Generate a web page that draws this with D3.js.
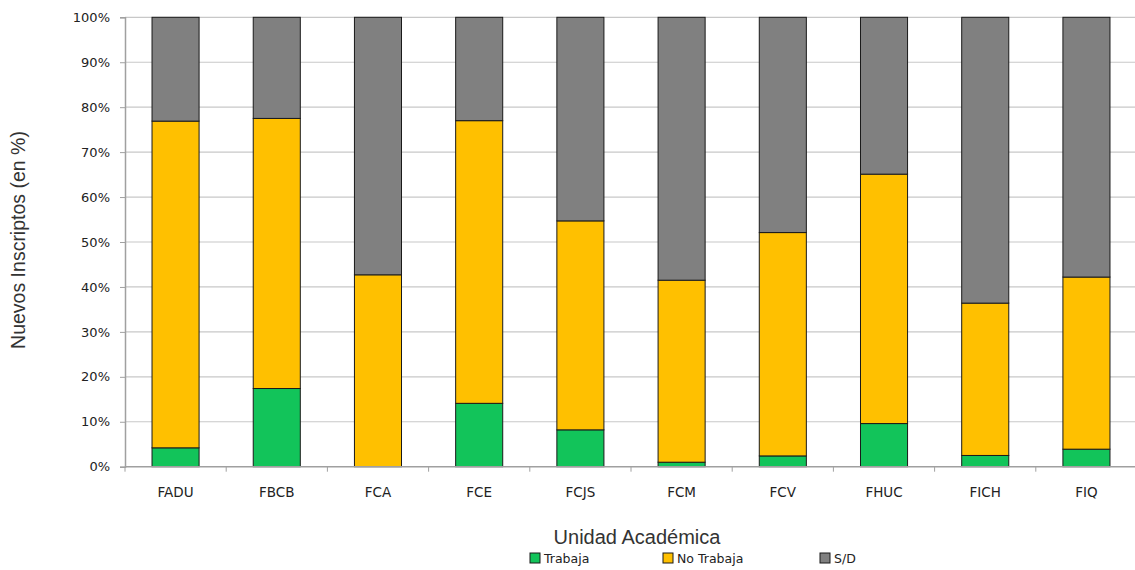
<!DOCTYPE html>
<html><head><meta charset="utf-8">
<script src="https://cdn.jsdelivr.net/npm/d3@7"></script>
<style>body{margin:0;background:#fff}</style>
</head><body>
<svg id="c" width="1135" height="570"></svg>
<script>
const categories = ["FADU","FBCB","FCA","FCE","FCJS","FCM","FCV","FHUC","FICH","FIQ"];
const trabaja   = [4.2, 17.4, 0.0, 14.1, 8.2, 1.0, 2.4, 9.6, 2.5, 3.9];
const noTrabaja = [72.7, 60.1, 42.7, 62.9, 46.5, 40.5, 49.7, 55.5, 33.9, 38.3];
const sd        = [23.1, 22.5, 57.3, 23.0, 45.3, 58.5, 47.9, 34.9, 63.6, 57.8];
const seriesNames = ["Trabaja","No Trabaja","S/D"];
const yTicks = [0,10,20,30,40,50,60,70,80,90,100];
const colors = ["#12C45A","#FFC000","#808080"];

const svg = d3.select("#c");
const m = {l:125, t:17.3, r:1137, b:466.7};
const x = d3.scaleBand().domain(categories).range([m.l, m.r]).paddingInner(0.535).paddingOuter(0.267);
const xb = d3.scaleBand().domain(categories).range([m.l, m.r]);
const y = d3.scaleLinear().domain([0,100]).range([m.b, m.t]);

// gridlines
svg.append("g").selectAll("line").data(yTicks.filter(d=>d>0)).join("line")
  .attr("x1", m.l).attr("x2", 1135).attr("y1", d=>y(d)).attr("y2", d=>y(d))
  .attr("stroke", "#c8c8c8").attr("stroke-width", 1.2);

const rows = categories.map((c,i)=>({cat:c, "Trabaja":trabaja[i], "No Trabaja":noTrabaja[i], "S/D":sd[i]}));
const stack = d3.stack().keys(seriesNames)(rows);

svg.append("g").selectAll("g").data(stack).join("g")
  .attr("fill", (d,i)=>colors[i])
  .selectAll("rect").data(d=>d).join("rect")
  .attr("x", d=>x(d.data.cat)).attr("width", x.bandwidth())
  .attr("y", d=>y(d[1])).attr("height", d=>Math.max(0, y(d[0])-y(d[1])))
  .attr("stroke", "#1a1a1a").attr("stroke-width", 1);

// y axis
const ya = svg.append("g").attr("transform", `translate(${m.l},0)`)
  .call(d3.axisLeft(y).tickValues(yTicks).tickSize(5).tickPadding(10).tickFormat(d=>d+"%"));
ya.select(".domain").attr("stroke", "#a0a0a0").attr("stroke-width", 1.5);
ya.selectAll(".tick line").attr("stroke", "#a0a0a0");
ya.selectAll("text").attr("font-family", "DejaVu Sans, Verdana, sans-serif").attr("font-size", 13).attr("fill", "#222");

// x axis
const xa = svg.append("g").attr("transform", `translate(0,${m.b})`)
  .call(d3.axisBottom(x).tickSize(0).tickPadding(21));
xa.select(".domain").remove();
xa.append("line").attr("x1", m.l).attr("x2", 1135).attr("stroke", "#a0a0a0").attr("stroke-width", 1.5);
xa.selectAll(".tk").data(categories).join("line").attr("class","tk")
  .attr("x1", d=>xb(d)).attr("x2", d=>xb(d)).attr("y1", 0).attr("y2", 5)
  .attr("stroke", "#a0a0a0");
xa.selectAll("text").attr("font-family", "DejaVu Sans, Verdana, sans-serif").attr("font-size", 13.5).attr("fill", "#222");

// titles
svg.append("text").attr("transform", "translate(25,240) rotate(-90)").attr("text-anchor","middle")
  .attr("font-family", "Liberation Sans, Arial, sans-serif").attr("font-size", 19.5).attr("fill", "#333")
  .text("Nuevos Inscriptos (en %)");
svg.append("text").attr("x", 637).attr("y", 544).attr("text-anchor","middle")
  .attr("font-family", "Liberation Sans, Arial, sans-serif").attr("font-size", 20).attr("fill", "#333")
  .text("Unidad Académica");

// legend
const legX = [530, 663, 820];
const lg = svg.append("g").selectAll("g").data(seriesNames).join("g")
  .attr("transform", (d,i)=>`translate(${legX[i]},553)`);
lg.append("rect").attr("x",0).attr("y",0).attr("width",10).attr("height",10)
  .attr("fill",(d,i)=>colors[i]).attr("stroke","#1a1a1a").attr("stroke-width",1);
lg.append("text").attr("x",14).attr("y",10).attr("font-family","DejaVu Sans, Verdana, sans-serif")
  .attr("font-size",12.5).attr("fill","#222").text(d=>d);
</script>
</body></html>
